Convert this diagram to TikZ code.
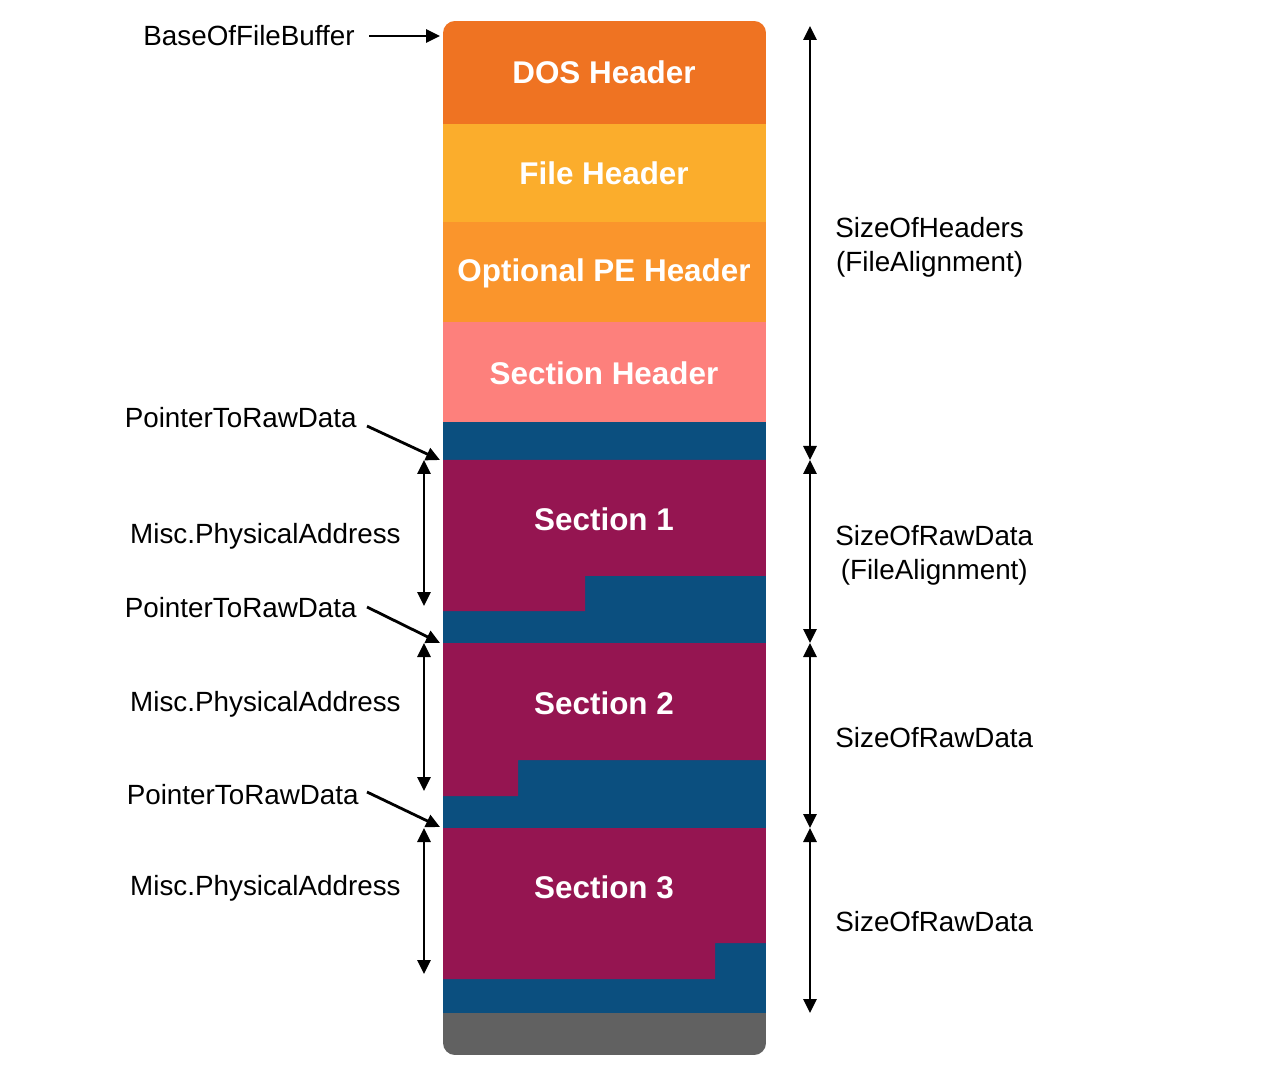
\documentclass[tikz,border=0pt]{standalone}
\usepackage{fontspec}
\setmainfont{Liberation Sans}
\usetikzlibrary{arrows.meta}
\definecolor{dosc}{HTML}{EF7322}
\definecolor{filec}{HTML}{FBAD2C}
\definecolor{optc}{HTML}{FA952C}
\definecolor{sechc}{HTML}{FD807C}
\definecolor{padc}{HTML}{0B4F7F}
\definecolor{secc}{HTML}{951551}
\definecolor{endc}{HTML}{616161}
\begin{document}
\begin{tikzpicture}[x=0.5pt,y=-0.5pt,
  blk/.style={font=\fontsize{15.7}{18}\selectfont\bfseries, text=white, inner sep=0pt},
  lbl/.style={font=\fontsize{13.9}{17}\selectfont, inner sep=0pt},
  tip/.tip={Triangle[length=7pt,width=6.5pt]},
  arr/.style={line width=1.4pt, -tip},
  darr/.style={line width=1.4pt, tip-tip}]
\useasboundingbox (0,0) rectangle (1262,1068);
% column
\begin{scope}
\clip[rounded corners=6pt] (443,21) rectangle (766,1055);
\fill[dosc] (443,21) rectangle (766,124);
\fill[filec] (443,124) rectangle (766,222);
\fill[optc] (443,222) rectangle (766,322);
\fill[sechc] (443,322) rectangle (766,422);
\fill[padc] (443,422) rectangle (766,1013);
\fill[secc] (443,460) -- (766,460) -- (766,576) -- (585,576) -- (585,611) -- (443,611) -- cycle;
\fill[secc] (443,643) -- (766,643) -- (766,760) -- (518,760) -- (518,796) -- (443,796) -- cycle;
\fill[secc] (443,828) -- (766,828) -- (766,943) -- (715,943) -- (715,979) -- (443,979) -- cycle;
\fill[endc] (443,1013) rectangle (766,1055);
\end{scope}
% block labels
\node[blk] (dos) at (604,72) {DOS Header};
\node[blk] (fh) at (604,173) {File Header};
\node[blk] (oh) at (604,273) {Optional PE Header};
\node[blk] (sh) at (604,373) {Section Header};
\node[blk] (s1) at (604,519) {Section 1};
\node[blk] (s2) at (604,703) {Section 2};
\node[blk] (s3) at (604,887) {Section 3};
% left labels
\node[lbl, anchor=east] (bofb) at (355,36) {BaseOfFileBuffer};
\node[lbl, anchor=east] (p1) at (357,418) {PointerToRawData};
\node[lbl, anchor=east] (p2) at (357,608) {PointerToRawData};
\node[lbl, anchor=east] (p3) at (359,795) {PointerToRawData};
\node[lbl, anchor=east] (m1) at (401,536) {Misc.PhysicalAddress};
\node[lbl, anchor=east] (m2) at (401,704) {Misc.PhysicalAddress};
\node[lbl, anchor=east] (m3) at (401,888) {Misc.PhysicalAddress};
% right labels
\node[lbl, anchor=west, align=center] (soh) at (835,247) {SizeOfHeaders\\(FileAlignment)};
\node[lbl, anchor=west, align=center] (srd1) at (835,555) {SizeOfRawData\\(FileAlignment)};
\node[lbl, anchor=west] (srd2) at (835,738) {SizeOfRawData};
\node[lbl, anchor=west] (srd3) at (835,922) {SizeOfRawData};
% coordinates
\coordinate (top) at (440,36);
\coordinate (p1s) at (367,426); \coordinate (p1e) at (440,460);
\coordinate (p2s) at (367,607); \coordinate (p2e) at (440,643);
\coordinate (p3s) at (367,792); \coordinate (p3e) at (440,827);
\coordinate (ma1) at (424,460); \coordinate (mb1) at (424,606);
\coordinate (ma2) at (424,643); \coordinate (mb2) at (424,791);
\coordinate (ma3) at (424,828); \coordinate (mb3) at (424,974);
\coordinate (r0) at (810,26); \coordinate (r1) at (810,460);
\coordinate (r2) at (810,643); \coordinate (r3) at (810,828);
\coordinate (r4) at (810,1013);
% arrows
\draw[arr] ([xshift=7pt]bofb.east) -- (top);
\draw[arr] (p1s) -- (p1e);
\draw[arr] (p2s) -- (p2e);
\draw[arr] (p3s) -- (p3e);
\draw[darr] (ma1) -- (mb1);
\draw[darr] (ma2) -- (mb2);
\draw[darr] (ma3) -- (mb3);
\draw[darr] (r0) -- (r1);
\draw[darr] (r1) -- (r2);
\draw[darr] (r2) -- (r3);
\draw[darr] (r3) -- (r4);
\end{tikzpicture}
\end{document}
